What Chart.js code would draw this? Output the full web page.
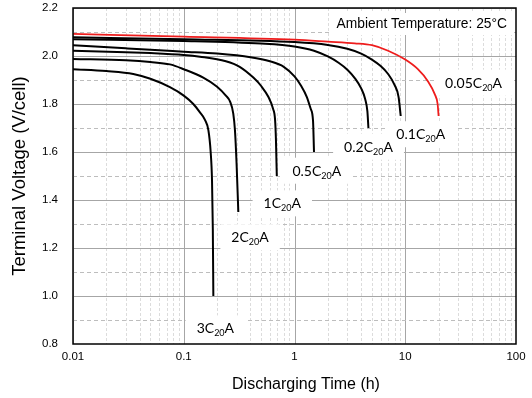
<!DOCTYPE html>
<html>
<head>
<meta charset="utf-8">
<script src="https://cdn.jsdelivr.net/npm/chart.js@4/dist/chart.umd.min.js"></script>
<style>
  html, body { margin: 0; padding: 0; background: #fff; }
  canvas { display: block; }
</style>
</head>
<body>
<canvas id="chart" width="532" height="398"></canvas>
<script>
// Discharge characteristics: time (h) vs terminal voltage (V/cell) for each rate
const hours005C = [0.01, 0.1, 1, 2, 3.5, 5, 7, 10, 13, 16, 18.5, 19.6, 20];
const volts005C = [2.092, 2.081, 2.068, 2.06, 2.053, 2.045, 2.022, 1.985, 1.945, 1.895, 1.84, 1.80, 1.75];

const hours01C = [0.01, 0.1, 1, 2, 3, 4, 5, 6, 7, 8, 8.7, 9.1];
const volts01C = [2.078, 2.07, 2.058, 2.046, 2.03, 2.01, 1.985, 1.958, 1.925, 1.88, 1.83, 1.75];

const hours02C = [0.01, 0.1, 0.5, 1, 1.5, 2, 2.5, 3, 3.5, 4, 4.35, 4.55, 4.65];
const volts02C = [2.07, 2.063, 2.052, 2.04, 2.022, 1.998, 1.972, 1.943, 1.908, 1.865, 1.82, 1.77, 1.70];

const hours05C = [0.01, 0.03, 0.05, 0.1, 0.2, 0.4, 0.6, 0.8, 1.0, 1.15, 1.29, 1.4, 1.47, 1.5];
const volts05C = [2.045, 2.032, 2.026, 2.018, 2.01, 1.995, 1.978, 1.955, 1.915, 1.875, 1.83, 1.78, 1.73, 1.60];

const hours1C = [0.01, 0.03, 0.05, 0.1, 0.14, 0.24, 0.32, 0.425, 0.5, 0.58, 0.64, 0.668, 0.68, 0.692];
const volts1C = [2.022, 2.016, 2.012, 2.004, 1.997, 1.978, 1.955, 1.91, 1.875, 1.83, 1.78, 1.733, 1.65, 1.5];

const hours2C = [0.01, 0.03, 0.05, 0.075, 0.1, 0.15, 0.2, 0.24, 0.262, 0.28, 0.29, 0.3, 0.311];
const volts2C = [1.988, 1.982, 1.975, 1.965, 1.945, 1.91, 1.872, 1.835, 1.81, 1.76, 1.69, 1.55, 1.35];

const hours3C = [0.01, 0.02, 0.035, 0.05, 0.075, 0.1, 0.122, 0.14, 0.155, 0.167, 0.175, 0.18, 0.183, 0.185];
const volts3C = [1.945, 1.937, 1.925, 1.905, 1.87, 1.835, 1.80, 1.765, 1.735, 1.69, 1.6, 1.48, 1.28, 1.0];

// Rate names and where each name sits (hours, volts)
const rateNames  = ['0.05C', '0.1C', '0.2C', '0.5C', '1C', '2C', '3C'];
const labelHours = [41.4, 13.8, 4.66, 1.59, 0.776, 0.397, 0.193];
const labelVolts = [1.889, 1.674, 1.622, 1.522, 1.386, 1.245, 0.865];

// Axis tick labels
const xTickLabels = ['0.01', '0.1', '1', '10', '100'];
const yTickValues = [0.8, 1.0, 1.2, 1.4, 1.6, 1.8, 2.0, 2.2];

const seriesHours = [hours005C, hours01C, hours02C, hours05C, hours1C, hours2C, hours3C];
const seriesVolts = [volts005C, volts01C, volts02C, volts05C, volts1C, volts2C, volts3C];

const datasets = seriesHours.map((hrs, i) => ({
  label: rateNames[i] + '20A',
  data: hrs.map((h, k) => ({ x: h, y: seriesVolts[i][k] })),
  borderColor: i === 0 ? '#ee1c1c' : '#000000',
  borderWidth: i === 0 ? 1.8 : 2,
  pointRadius: 0,
  fill: false,
  cubicInterpolationMode: 'monotone'
}));

const SANS = '"Liberation Sans", Arial, sans-serif';
const LABEL_FONT = 'Lato, "Open Sans", sans-serif';

function labelMetrics(ctx, name) {
  ctx.font = '14px ' + LABEL_FONT;
  const w1 = ctx.measureText(name).width;
  const w3 = ctx.measureText('A').width;
  ctx.font = '9px ' + LABEL_FONT;
  const w2 = ctx.measureText('20').width;
  return { w1, w2, w3, total: w1 + w2 + w3 };
}

const decorPlugin = {
  id: 'decor',
  beforeDatasetsDraw(chart) {
    const { ctx, chartArea: a, scales: { x, y } } = chart;
    ctx.save();
    ctx.beginPath();
    ctx.rect(a.left, a.top, a.right - a.left, a.bottom - a.top);
    ctx.clip();
    // vertical grid: decades solid, 2..9 dashed
    for (let d = -2; d < 2; d++) {
      for (let m = 1; m <= 9; m++) {
        const v = m * Math.pow(10, d);
        const px = Math.round(x.getPixelForValue(v)) + 0.5;
        ctx.beginPath();
        if (m === 1) {
          ctx.setLineDash([]);
          ctx.strokeStyle = '#a6a6a6';
        } else {
          ctx.setLineDash([3, 2]);
          ctx.strokeStyle = '#dcdcdc';
        }
        ctx.lineWidth = 1;
        ctx.moveTo(px, a.top);
        ctx.lineTo(px, a.bottom);
        ctx.stroke();
      }
    }
    // horizontal grid: 0.2 V solid, 0.1 V dashed
    for (let k = 8; k <= 22; k++) {
      const v = k / 10;
      const py = Math.round(y.getPixelForValue(v)) + 0.5;
      ctx.beginPath();
      if (k % 2 === 0) {
        ctx.setLineDash([]);
        ctx.strokeStyle = '#a6a6a6';
      } else {
        ctx.setLineDash([4, 3]);
        ctx.strokeStyle = '#bdbdbd';
      }
      ctx.moveTo(a.left, py);
      ctx.lineTo(a.right, py);
      ctx.stroke();
    }
    ctx.setLineDash([]);
    // white backing behind the rate names
    ctx.fillStyle = '#ffffff';
    rateNames.forEach((name, i) => {
      const cx = x.getPixelForValue(labelHours[i]);
      const cy = y.getPixelForValue(labelVolts[i]);
      const m = labelMetrics(ctx, name);
      ctx.fillRect(cx - m.total / 2 - 11, cy - 13, m.total + 22, 26);
    });
    // white backing behind the temperature note
    ctx.font = '13.8px ' + SANS;
    const note = 'Ambient Temperature: 25°C';
    const nw = ctx.measureText(note).width;
    ctx.fillRect(a.right - 9 - nw - 6, a.top + 5, nw + 12, 22);
    ctx.restore();
  },
  afterDatasetsDraw(chart) {
    const { ctx, chartArea: a, scales: { x, y } } = chart;
    ctx.save();
    ctx.fillStyle = '#000';
    ctx.textBaseline = 'alphabetic';
    ctx.textAlign = 'left';
    rateNames.forEach((name, i) => {
      const cx = x.getPixelForValue(labelHours[i]);
      const cy = y.getPixelForValue(labelVolts[i]);
      const m = labelMetrics(ctx, name);
      const base = cy + 5;
      let sx = cx - m.total / 2;
      ctx.font = '14px ' + LABEL_FONT;
      ctx.fillText(name, sx, base);
      sx += m.w1;
      ctx.font = '9px ' + LABEL_FONT;
      ctx.fillText('20', sx, base + 3);
      sx += m.w2;
      ctx.font = '14px ' + LABEL_FONT;
      ctx.fillText('A', sx, base);
    });
    // temperature note
    ctx.font = '13.8px ' + SANS;
    ctx.textAlign = 'right';
    ctx.textBaseline = 'middle';
    ctx.fillText('Ambient Temperature: 25°C', a.right - 9, a.top + 16);
    // frame
    ctx.strokeStyle = '#000';
    ctx.lineWidth = 1.5;
    ctx.strokeRect(a.left, a.top, a.right - a.left, a.bottom - a.top);
    // x axis title
    ctx.font = '16px ' + SANS;
    ctx.textAlign = 'center';
    ctx.textBaseline = 'middle';
    ctx.fillText('Discharging Time (h)', (a.left + a.right) / 2 + 11.5, 385);
    ctx.restore();
  }
};

new Chart(document.getElementById('chart'), {
  type: 'line',
  data: { datasets },
  options: {
    responsive: false,
    animation: false,
    devicePixelRatio: 1,
    layout: { padding: { left: 0, top: 8, right: 16, bottom: 0 } },
    plugins: {
      legend: { display: false },
      tooltip: { enabled: false }
    },
    scales: {
      x: {
        type: 'logarithmic',
        min: 0.01,
        max: 100,
        grid: { display: false, drawTicks: false },
        border: { display: false },
        afterFit(scale) {
          scale.height = 54;
          scale.paddingLeft = 0;
          scale.paddingRight = 0;
        },
        afterBuildTicks(scale) {
          scale.ticks = xTickLabels.map((t) => ({ value: parseFloat(t) }));
        },
        ticks: {
          autoSkip: false,
          maxRotation: 0,
          padding: 6,
          color: '#000',
          font: { family: SANS, size: 11.5 },
          callback(value) {
            const idx = xTickLabels.findIndex((t) => Math.abs(parseFloat(t) - value) < 1e-9);
            return idx >= 0 ? xTickLabels[idx] : '';
          }
        }
      },
      y: {
        type: 'linear',
        min: 0.8,
        max: 2.2,
        grid: { display: false, drawTicks: false },
        border: { display: false },
        afterFit(scale) {
          scale.width = 73;
          scale.paddingTop = 0;
          scale.paddingBottom = 0;
        },
        afterBuildTicks(scale) {
          scale.ticks = yTickValues.map((v) => ({ value: v }));
        },
        ticks: {
          padding: 15,
          color: '#000',
          font: { family: SANS, size: 11.5 },
          callback(value) { return Number(value).toFixed(1); }
        },
        title: {
          display: true,
          text: 'Terminal Voltage (V/cell)',
          color: '#000',
          font: { family: SANS, size: 18.5 },
          padding: { top: 9, bottom: 0 }
        }
      }
    }
  },
  plugins: [decorPlugin]
});
</script>
</body>
</html>
